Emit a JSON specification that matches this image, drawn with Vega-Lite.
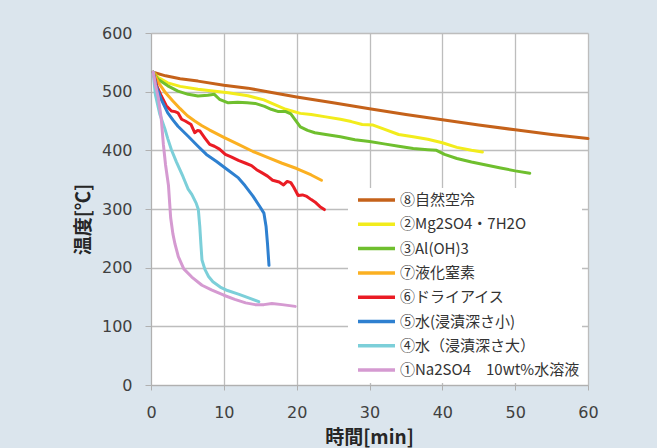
{
  "$schema": "https://vega.github.io/schema/vega-lite/v6.json",
  "autosize": {"type": "none"},
  "padding": {"left": 151, "top": 33, "right": 506, "bottom": 415},
  "background": "#dbe5ed",
  "bounds": "flush",
  "config": {
    "view": {"fill": "white", "stroke": null},
    "axis": {
      "grid": true,
      "labelFont": "DejaVu Sans",
      "labelFontSize": 16,
      "labelColor": "#404040",
      "titleFont": "Noto Sans CJK JP",
      "titleFontSize": 19,
      "titleFontWeight": "bold",
      "titleColor": "#262626",
      "gridColor": "#bdbdbd",
      "gridWidth": 1.3,
      "gridOpacity": 1,
      "domainColor": "#b0b0b0",
      "tickColor": "#b0b0b0"
    }
  },
  "data": {
    "values": [
      {"s": "⑧自然空冷", "t": 0.3, "T": 533},
      {"s": "⑧自然空冷", "t": 2, "T": 527},
      {"s": "⑧自然空冷", "t": 4, "T": 522},
      {"s": "⑧自然空冷", "t": 6.45, "T": 518},
      {"s": "⑧自然空冷", "t": 10, "T": 511},
      {"s": "⑧自然空冷", "t": 13.3, "T": 506},
      {"s": "⑧自然空冷", "t": 16, "T": 500},
      {"s": "⑧自然空冷", "t": 20, "T": 491},
      {"s": "⑧自然空冷", "t": 25, "T": 481},
      {"s": "⑧自然空冷", "t": 30, "T": 471},
      {"s": "⑧自然空冷", "t": 35, "T": 461},
      {"s": "⑧自然空冷", "t": 40, "T": 452},
      {"s": "⑧自然空冷", "t": 45, "T": 443},
      {"s": "⑧自然空冷", "t": 50, "T": 435},
      {"s": "⑧自然空冷", "t": 55, "T": 427},
      {"s": "⑧自然空冷", "t": 60, "T": 420},

      {"s": "②Mg2SO4・7H2O", "t": 0.3, "T": 533},
      {"s": "②Mg2SO4・7H2O", "t": 1, "T": 524},
      {"s": "②Mg2SO4・7H2O", "t": 2.3, "T": 515},
      {"s": "②Mg2SO4・7H2O", "t": 4, "T": 509},
      {"s": "②Mg2SO4・7H2O", "t": 6.45, "T": 504},
      {"s": "②Mg2SO4・7H2O", "t": 8.5, "T": 501},
      {"s": "②Mg2SO4・7H2O", "t": 10.6, "T": 498},
      {"s": "②Mg2SO4・7H2O", "t": 13.3, "T": 493},
      {"s": "②Mg2SO4・7H2O", "t": 15.5, "T": 486},
      {"s": "②Mg2SO4・7H2O", "t": 17, "T": 478},
      {"s": "②Mg2SO4・7H2O", "t": 18.5, "T": 470},
      {"s": "②Mg2SO4・7H2O", "t": 20.5, "T": 463},
      {"s": "②Mg2SO4・7H2O", "t": 22, "T": 461},
      {"s": "②Mg2SO4・7H2O", "t": 24, "T": 457},
      {"s": "②Mg2SO4・7H2O", "t": 26, "T": 453},
      {"s": "②Mg2SO4・7H2O", "t": 27.5, "T": 449},
      {"s": "②Mg2SO4・7H2O", "t": 29, "T": 444},
      {"s": "②Mg2SO4・7H2O", "t": 30.5, "T": 443},
      {"s": "②Mg2SO4・7H2O", "t": 32, "T": 436},
      {"s": "②Mg2SO4・7H2O", "t": 34, "T": 427},
      {"s": "②Mg2SO4・7H2O", "t": 36, "T": 423},
      {"s": "②Mg2SO4・7H2O", "t": 38, "T": 419},
      {"s": "②Mg2SO4・7H2O", "t": 40, "T": 413},
      {"s": "②Mg2SO4・7H2O", "t": 42, "T": 405},
      {"s": "②Mg2SO4・7H2O", "t": 44, "T": 400},
      {"s": "②Mg2SO4・7H2O", "t": 45.5, "T": 397},

      {"s": "③Al(OH)3", "t": 0.3, "T": 533},
      {"s": "③Al(OH)3", "t": 0.96, "T": 521},
      {"s": "③Al(OH)3", "t": 2.3, "T": 510},
      {"s": "③Al(OH)3", "t": 3.7, "T": 501},
      {"s": "③Al(OH)3", "t": 5.1, "T": 495.5},
      {"s": "③Al(OH)3", "t": 6.45, "T": 492.6},
      {"s": "③Al(OH)3", "t": 7.8, "T": 494},
      {"s": "③Al(OH)3", "t": 8.7, "T": 495.5},
      {"s": "③Al(OH)3", "t": 9.4, "T": 487},
      {"s": "③Al(OH)3", "t": 10.6, "T": 481},
      {"s": "③Al(OH)3", "t": 11.9, "T": 482},
      {"s": "③Al(OH)3", "t": 13.2, "T": 481},
      {"s": "③Al(OH)3", "t": 14.3, "T": 480},
      {"s": "③Al(OH)3", "t": 15.6, "T": 475},
      {"s": "③Al(OH)3", "t": 16.5, "T": 470},
      {"s": "③Al(OH)3", "t": 17.5, "T": 466},
      {"s": "③Al(OH)3", "t": 18.5, "T": 466},
      {"s": "③Al(OH)3", "t": 19.2, "T": 462},
      {"s": "③Al(OH)3", "t": 19.8, "T": 452},
      {"s": "③Al(OH)3", "t": 20.5, "T": 440},
      {"s": "③Al(OH)3", "t": 21.5, "T": 434},
      {"s": "③Al(OH)3", "t": 22.5, "T": 430},
      {"s": "③Al(OH)3", "t": 24, "T": 427},
      {"s": "③Al(OH)3", "t": 26, "T": 423},
      {"s": "③Al(OH)3", "t": 28, "T": 418},
      {"s": "③Al(OH)3", "t": 30, "T": 415},
      {"s": "③Al(OH)3", "t": 32, "T": 411},
      {"s": "③Al(OH)3", "t": 34, "T": 407},
      {"s": "③Al(OH)3", "t": 36, "T": 403},
      {"s": "③Al(OH)3", "t": 38, "T": 401},
      {"s": "③Al(OH)3", "t": 39.2, "T": 400},
      {"s": "③Al(OH)3", "t": 40.3, "T": 393},
      {"s": "③Al(OH)3", "t": 42, "T": 386},
      {"s": "③Al(OH)3", "t": 44, "T": 380},
      {"s": "③Al(OH)3", "t": 46, "T": 375},
      {"s": "③Al(OH)3", "t": 48, "T": 370},
      {"s": "③Al(OH)3", "t": 50, "T": 365},
      {"s": "③Al(OH)3", "t": 52, "T": 361},

      {"s": "⑦液化窒素", "t": 0.3, "T": 533},
      {"s": "⑦液化窒素", "t": 1, "T": 516},
      {"s": "⑦液化窒素", "t": 2, "T": 498},
      {"s": "⑦液化窒素", "t": 3, "T": 484},
      {"s": "⑦液化窒素", "t": 4, "T": 471},
      {"s": "⑦液化窒素", "t": 5, "T": 459},
      {"s": "⑦液化窒素", "t": 6, "T": 450},
      {"s": "⑦液化窒素", "t": 7, "T": 442},
      {"s": "⑦液化窒素", "t": 8, "T": 435},
      {"s": "⑦液化窒素", "t": 10, "T": 422},
      {"s": "⑦液化窒素", "t": 12, "T": 410},
      {"s": "⑦液化窒素", "t": 14, "T": 398},
      {"s": "⑦液化窒素", "t": 16, "T": 388},
      {"s": "⑦液化窒素", "t": 18, "T": 378},
      {"s": "⑦液化窒素", "t": 20, "T": 369},
      {"s": "⑦液化窒素", "t": 22, "T": 358},
      {"s": "⑦液化窒素", "t": 23.4, "T": 349},

      {"s": "⑥ドライアイス", "t": 0.3, "T": 533},
      {"s": "⑥ドライアイス", "t": 0.8, "T": 510},
      {"s": "⑥ドライアイス", "t": 1.4, "T": 493},
      {"s": "⑥ドライアイス", "t": 2.1, "T": 476},
      {"s": "⑥ドライアイス", "t": 2.8, "T": 467},
      {"s": "⑥ドライアイス", "t": 3.3, "T": 466},
      {"s": "⑥ドライアイス", "t": 3.7, "T": 464},
      {"s": "⑥ドライアイス", "t": 4.2, "T": 453},
      {"s": "⑥ドライアイス", "t": 4.7, "T": 450},
      {"s": "⑥ドライアイス", "t": 5.1, "T": 447},
      {"s": "⑥ドライアイス", "t": 5.5, "T": 444},
      {"s": "⑥ドライアイス", "t": 6.0, "T": 430},
      {"s": "⑥ドライアイス", "t": 6.4, "T": 434},
      {"s": "⑥ドライアイス", "t": 6.7, "T": 433},
      {"s": "⑥ドライアイス", "t": 7.4, "T": 421},
      {"s": "⑥ドライアイス", "t": 8.06, "T": 410},
      {"s": "⑥ドライアイス", "t": 8.7, "T": 407},
      {"s": "⑥ドライアイス", "t": 9.4, "T": 402},
      {"s": "⑥ドライアイス", "t": 10.2, "T": 393},
      {"s": "⑥ドライアイス", "t": 11, "T": 389},
      {"s": "⑥ドライアイス", "t": 12, "T": 383},
      {"s": "⑥ドライアイス", "t": 13, "T": 378},
      {"s": "⑥ドライアイス", "t": 13.8, "T": 374},
      {"s": "⑥ドライアイス", "t": 14.5, "T": 367},
      {"s": "⑥ドライアイス", "t": 15.2, "T": 362},
      {"s": "⑥ドライアイス", "t": 16, "T": 356},
      {"s": "⑥ドライアイス", "t": 16.7, "T": 349},
      {"s": "⑥ドライアイス", "t": 17.6, "T": 346},
      {"s": "⑥ドライアイス", "t": 18.2, "T": 341},
      {"s": "⑥ドライアイス", "t": 18.7, "T": 347},
      {"s": "⑥ドライアイス", "t": 19.2, "T": 345},
      {"s": "⑥ドライアイス", "t": 19.6, "T": 337},
      {"s": "⑥ドライアイス", "t": 20.2, "T": 323},
      {"s": "⑥ドライアイス", "t": 20.8, "T": 324},
      {"s": "⑥ドライアイス", "t": 21.3, "T": 322},
      {"s": "⑥ドライアイス", "t": 22, "T": 316},
      {"s": "⑥ドライアイス", "t": 22.5, "T": 312},
      {"s": "⑥ドライアイス", "t": 23.2, "T": 304},
      {"s": "⑥ドライアイス", "t": 23.8, "T": 299},

      {"s": "⑤水(浸漬深さ小)", "t": 0.3, "T": 533},
      {"s": "⑤水(浸漬深さ小)", "t": 0.7, "T": 510},
      {"s": "⑤水(浸漬深さ小)", "t": 1.4, "T": 487},
      {"s": "⑤水(浸漬深さ小)", "t": 2.3, "T": 464},
      {"s": "⑤水(浸漬深さ小)", "t": 3, "T": 452},
      {"s": "⑤水(浸漬深さ小)", "t": 3.7, "T": 441},
      {"s": "⑤水(浸漬深さ小)", "t": 5.1, "T": 424},
      {"s": "⑤水(浸漬深さ小)", "t": 6.45, "T": 407},
      {"s": "⑤水(浸漬深さ小)", "t": 7.6, "T": 393},
      {"s": "⑤水(浸漬深さ小)", "t": 9, "T": 381},
      {"s": "⑤水(浸漬深さ小)", "t": 10.6, "T": 366},
      {"s": "⑤水(浸漬深さ小)", "t": 12, "T": 353},
      {"s": "⑤水(浸漬深さ小)", "t": 12.9, "T": 340},
      {"s": "⑤水(浸漬深さ小)", "t": 14, "T": 322},
      {"s": "⑤水(浸漬深さ小)", "t": 15, "T": 303},
      {"s": "⑤水(浸漬深さ小)", "t": 15.5, "T": 293},
      {"s": "⑤水(浸漬深さ小)", "t": 15.8, "T": 270},
      {"s": "⑤水(浸漬深さ小)", "t": 16, "T": 240},
      {"s": "⑤水(浸漬深さ小)", "t": 16.2, "T": 204},

      {"s": "④水（浸漬深さ大）", "t": 0.3, "T": 533},
      {"s": "④水（浸漬深さ大）", "t": 0.6, "T": 495},
      {"s": "④水（浸漬深さ大）", "t": 1.2, "T": 462},
      {"s": "④水（浸漬深さ大）", "t": 1.9, "T": 437},
      {"s": "④水（浸漬深さ大）", "t": 2.3, "T": 420},
      {"s": "④水（浸漬深さ大）", "t": 2.8, "T": 401},
      {"s": "④水（浸漬深さ大）", "t": 3.5, "T": 380},
      {"s": "④水（浸漬深さ大）", "t": 4.4, "T": 355},
      {"s": "④水（浸漬深さ大）", "t": 5.1, "T": 334},
      {"s": "④水（浸漬深さ大）", "t": 5.6, "T": 325},
      {"s": "④水（浸漬深さ大）", "t": 6.2, "T": 310},
      {"s": "④水（浸漬深さ大）", "t": 6.5, "T": 299},
      {"s": "④水（浸漬深さ大）", "t": 6.7, "T": 270},
      {"s": "④水（浸漬深さ大）", "t": 6.85, "T": 240},
      {"s": "④水（浸漬深さ大）", "t": 7, "T": 213},
      {"s": "④水（浸漬深さ大）", "t": 7.4, "T": 197},
      {"s": "④水（浸漬深さ大）", "t": 7.9, "T": 185},
      {"s": "④水（浸漬深さ大）", "t": 8.5, "T": 176},
      {"s": "④水（浸漬深さ大）", "t": 9.5, "T": 167},
      {"s": "④水（浸漬深さ大）", "t": 10.5, "T": 161},
      {"s": "④水（浸漬深さ大）", "t": 12, "T": 155},
      {"s": "④水（浸漬深さ大）", "t": 13.5, "T": 148},
      {"s": "④水（浸漬深さ大）", "t": 14.8, "T": 142},

      {"s": "①Na2SO4　10wt%水溶液", "t": 0.3, "T": 533},
      {"s": "①Na2SO4　10wt%水溶液", "t": 0.6, "T": 512},
      {"s": "①Na2SO4　10wt%水溶液", "t": 1.0, "T": 490},
      {"s": "①Na2SO4　10wt%水溶液", "t": 1.4, "T": 455},
      {"s": "①Na2SO4　10wt%水溶液", "t": 1.7, "T": 410},
      {"s": "①Na2SO4　10wt%水溶液", "t": 2.0, "T": 375},
      {"s": "①Na2SO4　10wt%水溶液", "t": 2.4, "T": 340},
      {"s": "①Na2SO4　10wt%水溶液", "t": 2.7, "T": 285},
      {"s": "①Na2SO4　10wt%水溶液", "t": 3.0, "T": 258},
      {"s": "①Na2SO4　10wt%水溶液", "t": 3.3, "T": 240},
      {"s": "①Na2SO4　10wt%水溶液", "t": 3.75, "T": 219},
      {"s": "①Na2SO4　10wt%水溶液", "t": 4.5, "T": 198},
      {"s": "①Na2SO4　10wt%水溶液", "t": 5.6, "T": 184},
      {"s": "①Na2SO4　10wt%水溶液", "t": 7, "T": 170},
      {"s": "①Na2SO4　10wt%水溶液", "t": 8.3, "T": 162},
      {"s": "①Na2SO4　10wt%水溶液", "t": 10, "T": 153},
      {"s": "①Na2SO4　10wt%水溶液", "t": 11.5, "T": 146},
      {"s": "①Na2SO4　10wt%水溶液", "t": 13, "T": 140},
      {"s": "①Na2SO4　10wt%水溶液", "t": 14.3, "T": 137},
      {"s": "①Na2SO4　10wt%水溶液", "t": 15.5, "T": 137},
      {"s": "①Na2SO4　10wt%水溶液", "t": 16.6, "T": 139},
      {"s": "①Na2SO4　10wt%水溶液", "t": 18, "T": 137},
      {"s": "①Na2SO4　10wt%水溶液", "t": 19.8, "T": 134}
    ]
  },
  "hconcat": [
    {
      "width": 437,
      "height": 352,
      "mark": {"type": "line", "strokeWidth": 3, "strokeJoin": "round", "strokeCap": "round"},
      "encoding": {
        "x": {
          "field": "t",
          "type": "quantitative",
          "scale": {"domain": [0, 60], "nice": false},
          "axis": {
            "values": [0, 10, 20, 30, 40, 50, 60],
            "grid": true,
            "labelFlush": false,
            "title": "時間[min]",
            "tickSize": 5,
            "labelPadding": 14,
            "titleX": 218,
            "titleY": 52,
            "titleBaseline": "middle",
            "titleAlign": "center"
          }
        },
        "y": {
          "field": "T",
          "type": "quantitative",
          "scale": {"domain": [0, 600], "nice": false},
          "axis": {
            "values": [0, 100, 200, 300, 400, 500, 600],
            "grid": true,
            "labelFlush": false,
            "title": "温度[℃]",
            "tickSize": 6,
            "labelPadding": 13,
            "titleAngle": -90,
            "titleX": -68,
            "titleY": 186,
            "titleBaseline": "middle",
            "titleAlign": "center"
          }
        },
        "color": {
          "field": "s",
          "type": "nominal",
          "scale": {
            "domain": ["⑧自然空冷", "②Mg2SO4・7H2O", "③Al(OH)3", "⑦液化窒素", "⑥ドライアイス", "⑤水(浸漬深さ小)", "④水（浸漬深さ大）", "①Na2SO4　10wt%水溶液"],
            "range": ["#c5621a", "#f2ec1c", "#6fbf2e", "#fbb021", "#ea1c24", "#2e80d0", "#7ccfd9", "#d59ad1"]
          },
          "legend": {
            "title": null,
            "orient": "none",
            "legendX": 197,
            "legendY": 155,
            "zindex": 2,
            "fillColor": "white",
            "padding": 2,
            "symbolOffset": 6,
            "symbolType": "stroke",
            "symbolSize": 1369,
            "symbolStrokeWidth": 3.5,
            "clipHeight": 20,
            "rowPadding": 4.3,
            "labelOffset": 3,
            "labelFont": "Noto Sans CJK JP",
            "labelFontSize": 15,
            "labelColor": "#333333",
            "labelLimit": 300
          }
        }
      }
    }
  ]
}
